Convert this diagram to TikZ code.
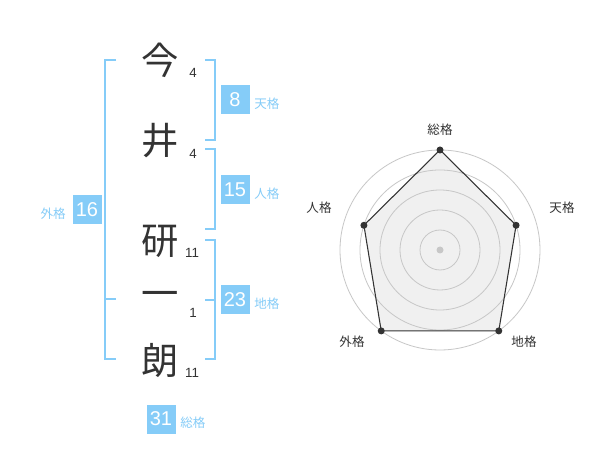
\documentclass[tikz,border=0pt]{standalone}
\usepackage{fontspec}
\setmainfont{Liberation Sans}
\newfontfamily\jp{Noto Sans CJK JP}
\usetikzlibrary{positioning}
\definecolor{kakublue}{RGB}{133,204,248}
\definecolor{inkgray}{RGB}{51,51,51}
\tikzset{
kanji/.style={font=\jp\fontsize{28}{28}\selectfont, text=inkgray, inner sep=0pt},
strokes/.style={font=\fontsize{10}{10}\selectfont, text=inkgray, inner sep=0pt},
kakubox/.style={rectangle, fill=kakublue, text=white, minimum size=21.75pt, inner sep=0pt, font=\fontsize{15}{15}\selectfont},
kakulabel/.style={font=\jp\fontsize{9.4}{9.4}\selectfont, text=kakublue, inner sep=0pt},
bracket/.style={draw=kakublue, line width=1.5pt},
axislabel/.style={font=\jp\fontsize{9.4}{9.4}\selectfont, text=inkgray, inner sep=0pt},
ring/.style={draw=black!22, line width=0.6pt},
web/.style={draw=inkgray, line width=0.8pt}}

\begin{document}
\begin{tikzpicture}[x=0.75pt,y=-0.75pt]
\fill[white] (0,0) rectangle (600,470);
\useasboundingbox (0,0) rectangle (600,470);

% name
\node (k1) [kanji] at (160,60) {今};
\node (k2) [kanji] at (160,141) {井};
\node (k3) [kanji] at (160,241) {研};
\node (k4) [kanji] at (160,299) {一};
\node (k5) [kanji] at (160,360) {朗};
\node (s1) [strokes] at (193,73) {4};
\node (s2) [strokes] at (193,154) {4};
\node (s3) [strokes] at (192,253) {11};
\node (s4) [strokes] at (193,313) {1};
\node (s5) [strokes] at (192,373) {11};

% brackets
\draw [bracket] (116,60) -- (105,60) -- (105,359) -- (116,359);
\draw [bracket] (105,299) -- (116,299);
\draw [bracket] (205,60) -- (215,60) -- (215,140) -- (205,140);
\draw [bracket] (205,149) -- (215,149) -- (215,229) -- (205,229);
\draw [bracket] (205,240) -- (215,240) -- (215,359) -- (205,359);
\draw [bracket] (215,300) -- (205,300);

% scores
\node (ten) [kakubox] at (235,100) {8};
\node (jin) [kakubox] at (235,190) {15};
\node (gai) [kakubox] at (87,210) {16};
\node (chi) [kakubox] at (235,300) {23};
\node (sou) [kakubox] at (161,419) {31};
\node (tenl) [kakulabel, anchor=west] at (254,104) {天格};
\node (jinl) [kakulabel, anchor=west] at (254,194) {人格};
\node (gail) [kakulabel, anchor=east] at (66,214) {外格};
\node (chil) [kakulabel, anchor=west] at (254,304) {地格};
\node (soul) [kakulabel, anchor=west] at (180,423) {総格};

% radar
\coordinate (c) at (440,250);
\foreach \n/\a/\v in {sou/90/100, ten/18/80, chi/-54/100, gai/-126/100, jin/162/80}
  \coordinate (p\n) at ([shift={(-\a:\v)}]c);
\fill [black!6] (psou) -- (pten) -- (pchi) -- (pgai) -- (pjin) -- cycle;
\foreach \r in {20,40,...,100}
  \draw [ring] (c) circle[radius=\r];
\draw [web] (psou) -- (pten) -- (pchi) -- (pgai) -- (pjin) -- cycle;
\foreach \n in {sou,ten,chi,gai,jin}
  \fill [inkgray] (p\n) circle[radius=3.5];
\fill [black!22] (c) circle[radius=3.5];
\node (asou) [axislabel] at (440,130) {総格};
\node (aten) [axislabel] at (562,208) {天格};
\node (ajin) [axislabel] at (319,208) {人格};
\node (agai) [axislabel] at (352,342) {外格};
\node (achi) [axislabel] at (524,342) {地格};
\end{tikzpicture}
\end{document}
